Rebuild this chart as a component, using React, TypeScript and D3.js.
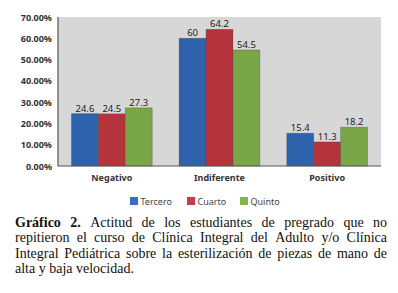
import React from "react";
import * as d3 from "d3";

const categories = ["Negativo", "Indiferente", "Positivo"];
const seriesNames = ["Tercero", "Cuarto", "Quinto"];
const tercero = [24.6, 60, 15.4];
const cuarto = [24.5, 64.2, 11.3];
const quinto = [27.3, 54.5, 18.2];
const yTicks = [0, 10, 20, 30, 40, 50, 60, 70];
const captionLines = [
  "Gráfico 2.|Actitud de los estudiantes de pregrado que no",
  "repitieron el curso de Clínica Integral del Adulto y/o Clínica",
  "Integral Pediátrica sobre la esterilización de piezas de mano de",
  "alta y baja velocidad.",
];

const colors = ["#2f62ad", "#b5343b", "#79a646"];
const legendColors = ["#3a6fc0", "#c23d47", "#82b54e"];

const W = 398, H = 293;
const m = { left: 58, right: 381, top: 17, bottom: 166 };

let ctx: CanvasRenderingContext2D | null = null;
function measure(t: string, font: string) {
  if (!ctx) ctx = document.createElement("canvas").getContext("2d");
  if (!ctx) return t.length * 6;
  ctx.font = font;
  return ctx.measureText(t).width;
}

export default function App() {
  const values = [tercero, cuarto, quinto];
  const x0 = d3.scaleBand().domain(categories).range([m.left, m.right]).paddingInner(0.25).paddingOuter(0.125);
  const x1 = d3.scaleBand().domain(seriesNames).range([0, x0.bandwidth()]);
  const y = d3.scaleLinear().domain([0, 70]).range([m.bottom, m.top]);

  const capSize = 14;
  const capLeft = 15, capRight = 387;
  const serif = '"Liberation Serif", "Times New Roman", serif';
  const capY0 = 226.5, lh = 15.6;

  const captionEls: React.ReactNode[] = [];
  captionLines.forEach((line, li) => {
    const words: { t: string; b: boolean }[] = [];
    const parts = line.split("|");
    if (parts.length > 1) {
      parts[0].split(" ").forEach((w) => words.push({ t: w, b: true }));
      parts[1].split(" ").forEach((w) => words.push({ t: w, b: false }));
    } else line.split(" ").forEach((w) => words.push({ t: w, b: false }));
    const widths = words.map((w) => measure(w.t, `${w.b ? "bold " : ""}${capSize}px ${serif}`));
    const total = widths.reduce((a, b) => a + b, 0);
    const last = li === captionLines.length - 1;
    const spaceW = measure(" ", `${capSize}px ${serif}`);
    const gap = last ? spaceW : (capRight - capLeft - total) / (words.length - 1);
    let cx = capLeft;
    words.forEach((w, wi) => {
      captionEls.push(
        <text key={`${li}-${wi}`} x={cx} y={capY0 + li * lh} fontFamily={serif} fontSize={capSize}
          fontWeight={w.b ? "bold" : "normal"} fill="#111">{w.t}</text>
      );
      cx += widths[wi] + gap;
    });
  });

  const sans = '"Noto Sans", "DejaVu Sans", sans-serif';
  const legendX = [130, 187, 240];

  return (
    <svg width={W} height={H} style={{ position: "absolute", left: 0, top: 0, background: "#fff" }}>
      <rect x={m.left} y={m.top} width={m.right - m.left} height={m.bottom - m.top} fill="#d7d7d7" />
      {categories.map((c, ci) =>
        seriesNames.map((s, si) => {
          const v = values[si][ci];
          const bx = (x0(c) ?? 0) + (x1(s) ?? 0);
          return (
            <g key={c + s}>
              <rect x={bx} y={y(v)} width={x1.bandwidth()} height={m.bottom - y(v)} fill={colors[si]}
                stroke="#3a3a3a" strokeOpacity={0.35} strokeWidth={0.8} />
              <text x={bx + x1.bandwidth() / 2} y={y(v) - 2} textAnchor="middle" fontFamily={sans}
                fontSize={9.5} fill="#222">{v}</text>
            </g>
          );
        })
      )}
      <line x1={m.left} x2={m.left} y1={m.top} y2={m.bottom} stroke="#555" strokeWidth={1.2} />
      <line x1={m.left} x2={m.right} y1={m.bottom} y2={m.bottom} stroke="#555" strokeWidth={1.2} />
      {yTicks.map((t) => (
        <text key={t} x={52} y={y(t) + 3.5} textAnchor="end" fontFamily={sans} fontSize={9}
          fontWeight="bold" fill="#333">{t.toFixed(2) + "%"}</text>
      ))}
      {categories.map((c) => (
        <text key={c} x={(x0(c) ?? 0) + x0.bandwidth() / 2} y={181} textAnchor="middle" fontFamily={sans}
          fontSize={9} fontWeight="bold" fill="#333">{c}</text>
      ))}
      {seriesNames.map((s, i) => (
        <g key={s}>
          <rect x={legendX[i]} y={197} width={8} height={8} fill={legendColors[i]} />
          <text x={legendX[i] + 10.5} y={204.5} fontFamily={sans} fontSize={9} fill="#444">{s}</text>
        </g>
      ))}
      {captionEls}
    </svg>
  );
}
